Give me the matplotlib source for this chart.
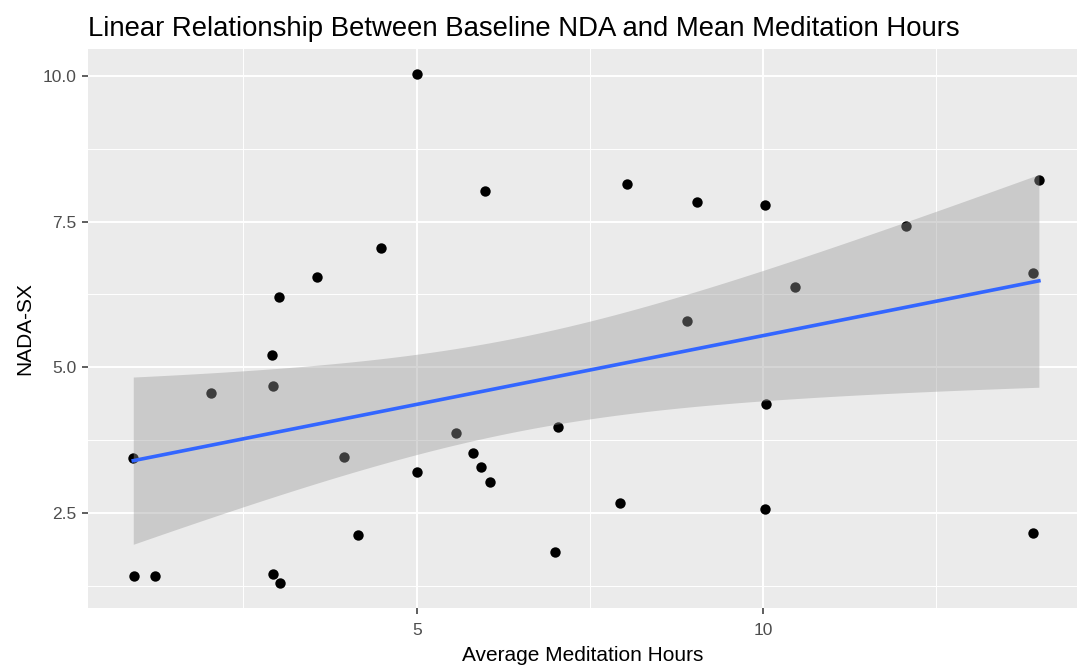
import numpy as np
import matplotlib
matplotlib.use("Agg")
import matplotlib.pyplot as plt
from matplotlib.ticker import MultipleLocator

plt.rcParams['font.family'] = ['Liberation Sans', 'DejaVu Sans']

# data
med_hours = [0.91, 0.92, 1.22, 2.03, 2.91, 2.92, 3.01, 2.93, 3.03, 3.56,
             3.95, 4.16, 4.48, 5.00, 5.01, 5.57, 5.98, 5.82, 5.93, 6.06,
             7.00, 7.04, 8.03, 7.94, 8.90, 9.04, 10.02, 10.04, 10.03, 10.46,
             12.06, 13.90, 13.90, 13.98]
nada_sx = [3.44, 1.41, 1.42, 4.56, 5.21, 4.68, 6.21, 1.44, 1.30, 6.55,
           3.46, 2.12, 7.05, 10.03, 3.20, 3.87, 8.02, 3.53, 3.28, 3.02,
           1.82, 3.98, 8.14, 2.66, 5.79, 7.83, 7.79, 4.37, 2.57, 6.38,
           7.43, 6.62, 2.16, 8.22]

x = np.array(med_hours)
y = np.array(nada_sx)

# linear fit with 95% confidence band (like geom_smooth(method="lm"))
n = len(x)
slope, intercept = np.polyfit(x, y, 1)
resid = y - (slope * x + intercept)
s = np.sqrt(np.sum(resid ** 2) / (n - 2))
xs = np.linspace(x.min(), x.max(), 80)
ys = slope * xs + intercept
tcrit = 2.0369  # t(0.975, df=32)
se = s * np.sqrt(1 / n + (xs - x.mean()) ** 2 / np.sum((x - x.mean()) ** 2))

fig = plt.figure(figsize=(10.78, 6.69), dpi=100)
ax = fig.add_axes([88 / 1078, 1 - 608 / 669, (1077 - 88) / 1078, (608 - 49) / 669])
ax.set_facecolor('#EBEBEB')

ax.scatter(x, y, s=56, color='black', zorder=2, linewidths=0)
ax.fill_between(xs, ys - tcrit * se, ys + tcrit * se, color='#999999', alpha=0.4,
                linewidth=0, zorder=3)
ax.plot(xs, ys, color='#3366FF', lw=2.6, zorder=4)

xspan = x.max() - x.min()
yspan = y.max() - y.min()
# the reference panel is cut at the right edge of the image
ax.set_xlim(x.min() - 0.05 * xspan, 14.53)
ax.set_ylim(y.min() - 0.05 * yspan, y.max() + 0.05 * yspan)

ax.xaxis.set_major_locator(MultipleLocator(5))
ax.xaxis.set_minor_locator(MultipleLocator(2.5))
ax.yaxis.set_major_locator(MultipleLocator(2.5))
ax.yaxis.set_minor_locator(MultipleLocator(1.25))
ax.yaxis.set_major_formatter(matplotlib.ticker.FormatStrFormatter('%.1f'))

ax.grid(which='major', color='white', lw=1.4, zorder=0)
ax.grid(which='minor', color='white', lw=0.7, zorder=0)
ax.set_axisbelow(True)
for sp in ax.spines.values():
    sp.set_visible(False)

ax.tick_params(which='major', length=4.5, width=1.1, color='#333333',
               labelsize=12.5, labelcolor='#4D4D4D', pad=4)
ax.tick_params(axis='x', pad=6)
ax.tick_params(which='minor', length=0)

ax.set_xlabel('Average Meditation Hours', fontsize=15, color='black', labelpad=6)
ax.set_ylabel('NADA-SX', fontsize=15, color='black', labelpad=6)
ax.set_title('Linear Relationship Between Baseline NDA and Mean Meditation Hours',
             fontsize=19.8, loc='left', pad=9)

fig.savefig('out.png', dpi=100)
